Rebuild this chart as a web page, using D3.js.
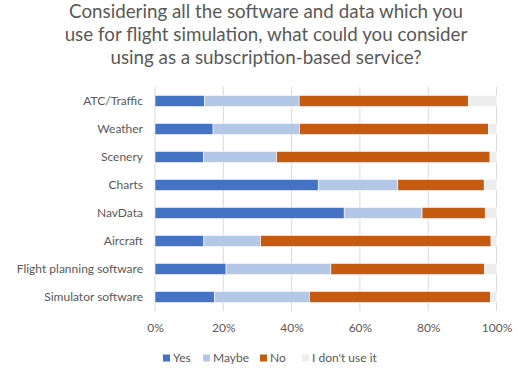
<!DOCTYPE html>
<html><head><meta charset="utf-8">
<script src="https://cdn.jsdelivr.net/npm/d3@7"></script>
<style>
html,body{margin:0;padding:0;background:#fff;}
svg{display:block;font-family:Lato,"Open Sans",sans-serif;}
</style></head>
<body><svg id="c" width="518" height="370"></svg>
<script>
const categories = ["ATC/Traffic","Weather","Scenery","Charts","NavData","Aircraft","Flight planning software","Simulator software"];
const seriesNames = ["Yes","Maybe","No","I don't use it"];
const yesValues   = [14.5, 17.0, 14.2, 47.8, 55.4, 14.3, 20.8, 17.4];
const maybeValues = [27.7, 25.3, 21.4, 23.3, 22.8, 16.6, 30.7, 27.8];
const noValues    = [49.6, 55.3, 62.5, 25.3, 18.5, 67.5, 45.0, 53.0];
const dontValues  = [8.2, 2.4, 1.9, 3.6, 3.3, 1.6, 3.5, 1.8];
const tickValues  = [0, 20, 40, 60, 80, 100];
const titleLines  = ["Considering all the software and data which you","use for flight simulation, what could you consider","using as a subscription-based service?"];
const colors = ["#4472C4","#B4C7E7","#C55A11","#EDEDED"];

const svg = d3.select("#c");
const textColor = "#595959";
const x = d3.scaleLinear().domain([0,100]).range([155,496.5]);
const y = d3.scaleBand().domain(categories).range([87,311]).paddingInner(0.6).paddingOuter(0.3);

// title
svg.append("g").selectAll("text").data(titleLines).join("text")
  .attr("x", 266).attr("y", (d,i)=>17.5+i*23)
  .attr("text-anchor","middle").attr("font-size",18.8).attr("fill",textColor).text(d=>d);

// gridlines
svg.append("g").selectAll("line").data(tickValues).join("line")
  .attr("x1", d=>x(d)).attr("x2", d=>x(d)).attr("y1",87).attr("y2",311)
  .attr("stroke","#D9D9D9").attr("stroke-width",1);

const rows = categories.map((c,i)=>({cat:c, Yes:yesValues[i], Maybe:maybeValues[i], No:noValues[i], "I don't use it":dontValues[i]}));
const stacked = d3.stack().keys(seriesNames)(rows);
svg.append("g").selectAll("g").data(stacked).join("g")
  .attr("fill",(d,i)=>colors[i])
  .selectAll("rect").data(d=>d).join("rect")
  .attr("x", d=>x(d[0])).attr("width", d=>x(d[1])-x(d[0]))
  .attr("y", d=>y(d.data.cat)).attr("height", y.bandwidth())
  .attr("stroke","#fff").attr("stroke-width",0.6);

// x axis
const xa = svg.append("g").attr("transform","translate(0,311)")
  .call(d3.axisBottom(x).tickValues(tickValues).tickFormat(d=>d+"%").tickSize(0).tickPadding(12));
xa.select(".domain").remove();
xa.selectAll("text").attr("font-size",12).attr("fill",textColor).attr("font-family","Lato,'Open Sans',sans-serif");

// y axis
const ya = svg.append("g").attr("transform","translate(155,0)")
  .call(d3.axisLeft(y).tickSize(0).tickPadding(12));
ya.select(".domain").remove();
ya.selectAll("text").attr("font-size",12).attr("fill",textColor).attr("font-family","Lato,'Open Sans',sans-serif");

// legend
const legendX = [163, 203, 260, 302];
const lg = svg.append("g").selectAll("g").data(seriesNames).join("g")
  .attr("transform",(d,i)=>`translate(${legendX[i]},358)`);
lg.append("rect").attr("x",0).attr("y",-3.5).attr("width",7).attr("height",7).attr("fill",(d,i)=>colors[i]);
lg.append("text").attr("x",10).attr("y",4).attr("font-size",12).attr("fill",textColor).text(d=>d);
</script></body></html>
